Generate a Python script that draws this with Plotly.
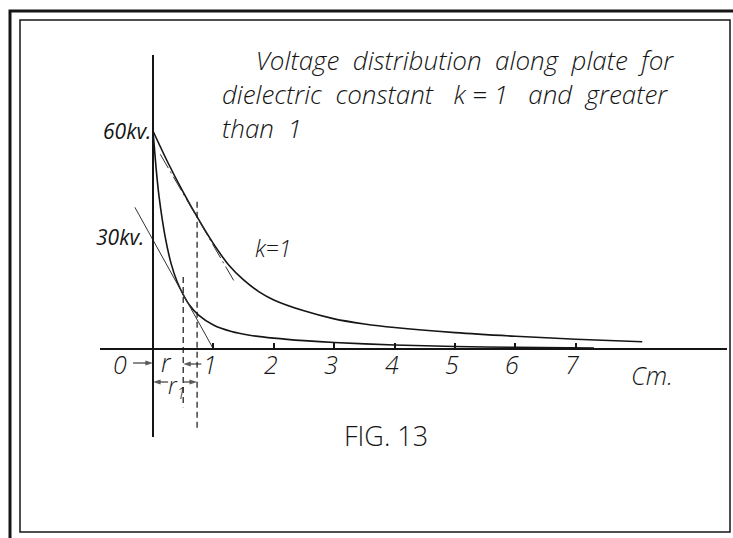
import plotly.graph_objects as go

# ---------------- data ----------------
# distance along plate (cm) and voltage (kV) for k = 1
x_k1 = [0, 0.25, 0.5, 0.75, 1.0, 1.25, 1.5, 1.75, 2.0, 2.5, 3.0, 3.5, 4.0, 5.0, 6.0, 7.0, 8.1]
v_k1 = [60, 51.2, 43.2, 35.8, 29.0, 23.2, 19.0, 15.8, 13.5, 10.5, 8.3, 6.9, 5.9, 4.5, 3.5, 2.7, 2.0]
# distance along plate (cm) and voltage (kV) for k greater than 1
x_kg = [0, 0.05, 0.1, 0.2, 0.3, 0.4, 0.5, 0.6, 0.75, 1.0, 1.3, 1.6, 2.0, 2.5, 3.0, 4.0, 5.0, 6.0, 7.3]
v_kg = [60, 50, 42, 31, 23.5, 18.5, 15, 12.2, 9.4, 6.6, 4.8, 3.8, 3.0, 2.3, 1.8, 1.1, 0.7, 0.45, 0.25]
# tangent lines
tan_k1_x = [0.12, 1.36]
tan_k1_v = [53.6, 18.2]
tan_kg_x = [-0.3, 1.0]
tan_kg_v = [39, 0]
# r and r1 markers (cm) and their dashed extents (kV)
r_x = 0.5
r1_x = 0.73
dash_r_v = [19.8, -16]
dash_r1_v = [40.5, -22.8]
# x tick values / labels
x_ticks = [1, 2, 3, 4, 5, 6, 7]
x_tick_labels = ["1", "2", "3", "4", "5", "6", "7"]
v_labels = [60, 30]
v_label_text = ["60kv.", "30kv."]
title_text = ("&nbsp;&nbsp;&nbsp;&nbsp;&nbsp;Voltage  distribution  along  plate  for<br>"
              "dielectric  constant   k = 1   and  greater<br>"
              "than  1")

W, H = 733, 538
# pixel geometry of the drawing
X0_PX, UNIT_X = 153, 60.4      # x = 0 at px 153, 60.4 px per cm
Y0_PX, UNIT_Y = 349, 3.633     # v = 0 at py 349, 3.633 px per kV
AX_L, AX_R = 100, 727          # x-axis line extent (px)
AX_T, AX_B = 55, 437           # y-axis line extent (px)


def dx(px):
    return (px - X0_PX) / UNIT_X


def dy(py):
    return (Y0_PX - py) / UNIT_Y


INK = "#151515"
FONT = "Open Sans"
ital = dict(family=FONT, style="italic", weight=300, color=INK)
ital_reg = dict(family=FONT, style="italic", weight=400, color=INK)

fig = go.Figure()

fig.add_trace(go.Scatter(x=x_k1, y=v_k1, mode="lines", line=dict(color=INK, width=1.6, shape="spline", smoothing=0.8),
                         hoverinfo="skip", showlegend=False))
fig.add_trace(go.Scatter(x=x_kg, y=v_kg, mode="lines", line=dict(color=INK, width=1.6, shape="spline", smoothing=0.6),
                         hoverinfo="skip", showlegend=False))
fig.add_trace(go.Scatter(x=tan_k1_x, y=tan_k1_v, mode="lines",
                         line=dict(color="#333", width=1, dash="16px,4px,2px,4px"),
                         hoverinfo="skip", showlegend=False))
fig.add_trace(go.Scatter(x=tan_kg_x, y=tan_kg_v, mode="lines", line=dict(color="#333", width=1),
                         hoverinfo="skip", showlegend=False))
fig.add_trace(go.Scatter(x=[r_x, r_x], y=dash_r_v, mode="lines", line=dict(color=INK, width=1.2, dash="6px,4px"),
                         hoverinfo="skip", showlegend=False))
fig.add_trace(go.Scatter(x=[r1_x, r1_x], y=dash_r1_v, mode="lines", line=dict(color=INK, width=1.2, dash="6px,4px"),
                         hoverinfo="skip", showlegend=False))

# little dimension arrows: (head x, tail x, y)
arrows = [(0.0, -0.33, dy(363)), (r_x, 0.80, dy(364)), (0.0, 0.25, dy(382)), (r1_x, 0.51, dy(382))]
for hx, tx, yy in arrows:
    fig.add_trace(go.Scatter(x=[tx, hx], y=[yy, yy], mode="lines+markers",
                             line=dict(color=INK, width=1),
                             marker=dict(symbol="arrow", angleref="previous", size=[0, 8], color=INK,
                                         line=dict(width=0)),
                             hoverinfo="skip", showlegend=False))

ann = []
# title block
ann.append(dict(text=title_text, x=220 / W, y=1 - 94 / H, xref="paper", yref="paper", xanchor="left",
                yanchor="middle", align="left", showarrow=False, font=dict(size=26, **ital)))
# voltage labels on the y axis
for v, t, px in zip(v_labels, v_label_text, [127, 120]):
    ann.append(dict(text=t, x=dx(px), y=v + (0 if v == 60 else 0.8), xref="x", yref="y", showarrow=False,
                    font=dict(size=21, **ital_reg)))
# x tick labels (hand placed slightly left of the tick marks)
for tv, tl in zip(x_ticks, x_tick_labels):
    ann.append(dict(text=tl, x=tv - 0.05, y=dy(364), xref="x", yref="y", showarrow=False,
                    font=dict(size=25, **ital)))
ann.append(dict(text="k=1", x=dx(273), y=dy(248), xref="x", yref="y", showarrow=False, font=dict(size=23, **ital)))
ann.append(dict(text="0", x=dx(120), y=dy(364), xref="x", yref="y", showarrow=False, font=dict(size=25, **ital)))
ann.append(dict(text="r", x=dx(166), y=dy(362), xref="x", yref="y", showarrow=False, font=dict(size=25, **ital)))
ann.append(dict(text="r<sub>1</sub>", x=dx(177), y=dy(386), xref="x", yref="y", showarrow=False,
                font=dict(size=23, **ital)))
ann.append(dict(text="Cm.", x=dx(652), y=dy(375), xref="x", yref="y", showarrow=False, font=dict(size=25, **ital)))
ann.append(dict(text="FIG. 13", x=342 / W, y=1 - 436 / H, xref="paper", yref="paper", xanchor="left",
                yanchor="middle", showarrow=False, font=dict(size=27, family=FONT, weight=300, color=INK)))

shapes = [
    dict(type="rect", xref="paper", yref="paper", x0=10 / W, x1=745 / W, y0=1 - 548 / H, y1=1 - 11 / H,
         line=dict(color=INK, width=3)),
    dict(type="rect", xref="paper", yref="paper", x0=20 / W, x1=730 / W, y0=1 - 532 / H, y1=1 - 20 / H,
         line=dict(color=INK, width=1.5)),
]

fig.update_layout(
    width=W, height=H, margin=dict(l=0, r=0, t=0, b=0),
    paper_bgcolor="white", plot_bgcolor="rgba(0,0,0,0)",
    annotations=ann, shapes=shapes, showlegend=False,
    xaxis=dict(domain=[AX_L / W, AX_R / W], range=[dx(AX_L), dx(AX_R)], anchor="free", position=1 - Y0_PX / H,
               showline=True, linecolor=INK, linewidth=2, showgrid=False, zeroline=False,
               tickmode="array", tickvals=x_ticks, ticks="inside", ticklen=5,
               tickwidth=1.5, tickcolor=INK, showticklabels=False, fixedrange=True),
    yaxis=dict(domain=[1 - AX_B / H, 1 - AX_T / H], range=[dy(AX_B), dy(AX_T)], anchor="free",
               position=X0_PX / W, showline=True, linecolor=INK, linewidth=2, showgrid=False, zeroline=False,
               showticklabels=False, ticks="", fixedrange=True),
)

fig.write_html("out.html", config={"displayModeBar": False},
               post_script="document.body.style.margin='0px';document.body.style.overflow='hidden';")
